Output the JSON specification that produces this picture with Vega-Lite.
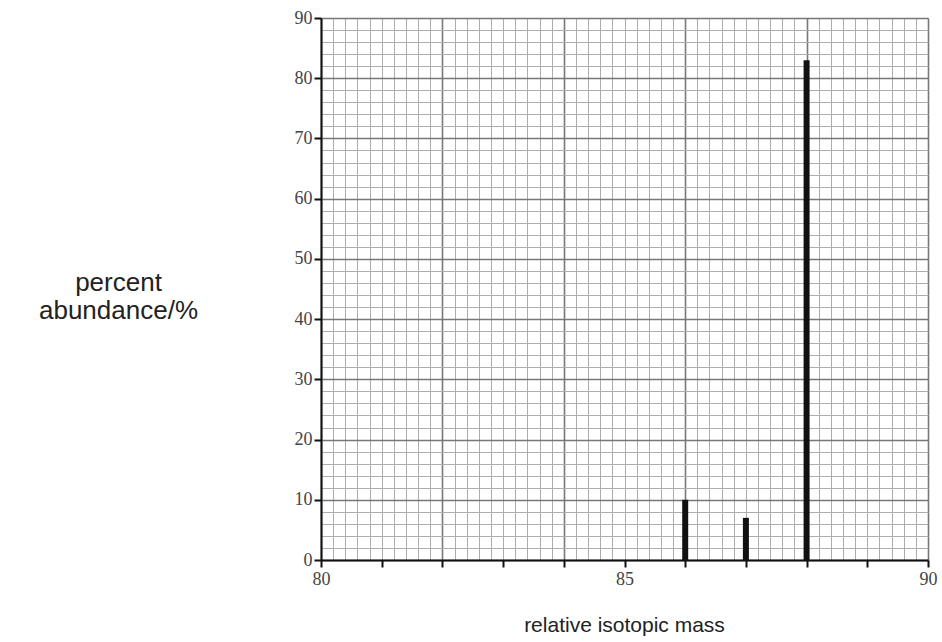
{
  "$schema": "https://vega.github.io/schema/vega-lite/v6.json",
  "autosize": "none",
  "padding": {"left": 321, "top": 18, "right": 14, "bottom": 82},
  "width": 607,
  "height": 542,
  "background": "white",
  "config": {"view": {"stroke": null}},
  "data": {"values": [
    {"mass": 86, "abundance": 10},
    {"mass": 87, "abundance": 7},
    {"mass": 88, "abundance": 83}
  ]},
  "layer": [
    {
      "mark": {"type": "bar", "color": "#111111", "size": 6},
      "encoding": {
        "x": {"field": "mass", "type": "quantitative",
          "scale": {"domain": [80, 90], "nice": false, "zero": false, "padding": 0},
          "axis": {"orient": "bottom", "values": [80,80.2,80.4,80.6,80.8,81,81.2,81.4,81.6,81.8,82,82.2,82.4,82.6,82.8,83,83.2,83.4,83.6,83.8,84,84.2,84.4,84.6,84.8,85,85.2,85.4,85.6,85.8,86,86.2,86.4,86.6,86.8,87,87.2,87.4,87.6,87.8,88,88.2,88.4,88.6,88.8,89,89.2,89.4,89.6,89.8,90],
            "grid": true, "gridColor": "#adadad", "gridWidth": 1, "gridOpacity": 1,
            "labels": false, "ticks": false, "domain": false, "title": null}},
        "y": {"field": "abundance", "type": "quantitative",
          "scale": {"domain": [0, 90], "nice": false, "padding": 0},
          "axis": {"orient": "left", "values": [0,2,4,6,8,10,12,14,16,18,20,22,24,26,28,30,32,34,36,38,40,42,44,46,48,50,52,54,56,58,60,62,64,66,68,70,72,74,76,78,80,82,84,86,88,90],
            "grid": true, "gridColor": "#adadad", "gridWidth": 1, "gridOpacity": 1,
            "labels": false, "ticks": false, "domain": false, "title": null}}
      }
    },
    {
      "mark": {"type": "bar", "opacity": 0, "size": 6},
      "encoding": {
        "x": {"field": "mass", "type": "quantitative",
          "scale": {"domain": [80, 90], "nice": false, "zero": false, "padding": 0},
          "axis": {"orient": "bottom", "values": [80,82,84,86,88,90],
            "grid": true, "gridColor": "#777777", "gridWidth": 1.6, "gridOpacity": 1,
            "labels": false, "ticks": false, "domain": false, "title": null}},
        "y": {"field": "abundance", "type": "quantitative",
          "scale": {"domain": [0, 90], "nice": false, "padding": 0},
          "axis": {"orient": "left", "values": [0,10,20,30,40,50,60,70,80,90],
            "grid": true, "gridColor": "#777777", "gridWidth": 1.6, "gridOpacity": 1,
            "labels": false, "ticks": false, "domain": false, "title": null}}
      }
    },
    {
      "mark": {"type": "bar", "opacity": 0, "size": 6},
      "encoding": {
        "x": {"field": "mass", "type": "quantitative",
          "scale": {"domain": [80, 90], "nice": false, "zero": false, "padding": 0},
          "axis": {"orient": "bottom", "values": [80,81,82,83,84,85,86,87,88,89,90],
            "grid": false, "zindex": 2,
            "labelExpr": "datum.value % 5 === 0 ? datum.label : ''",
            "labelFont": "Liberation Serif", "labelFontSize": 18, "labelColor": "#444444",
            "labelPadding": 3, "labelFlush": false,
            "ticks": true, "tickSize": 7, "tickWidth": 2, "tickColor": "#111111",
            "domain": true, "domainColor": "#111111", "domainWidth": 2,
            "title": "relative isotopic mass",
            "titleFont": "Liberation Sans", "titleFontSize": 21, "titleFontWeight": "normal", "titleColor": "#222222",
            "titleX": 303, "titleY": 65, "titleBaseline": "middle"}},
        "y": {"field": "abundance", "type": "quantitative",
          "scale": {"domain": [0, 90], "nice": false, "padding": 0},
          "axis": {"orient": "left", "values": [0,10,20,30,40,50,60,70,80,90],
            "grid": false, "zindex": 2,
            "labelFont": "Liberation Serif", "labelFontSize": 18, "labelColor": "#444444",
            "labelPadding": 2, "labelFlush": false,
            "ticks": true, "tickSize": 7, "tickWidth": 2, "tickColor": "#111111",
            "domain": true, "domainColor": "#111111", "domainWidth": 2,
            "title": ["percent", "abundance/%"],
            "titleFont": "Liberation Sans", "titleFontSize": 26, "titleFontWeight": "normal", "titleColor": "#222222",
            "titleAngle": 0, "titleAlign": "center", "titleBaseline": "middle", "titleLineHeight": 28,
            "titleX": -203, "titleY": 264}}
      }
    }
  ],
  "resolve": {"axis": {"x": "independent", "y": "independent"}}
}
